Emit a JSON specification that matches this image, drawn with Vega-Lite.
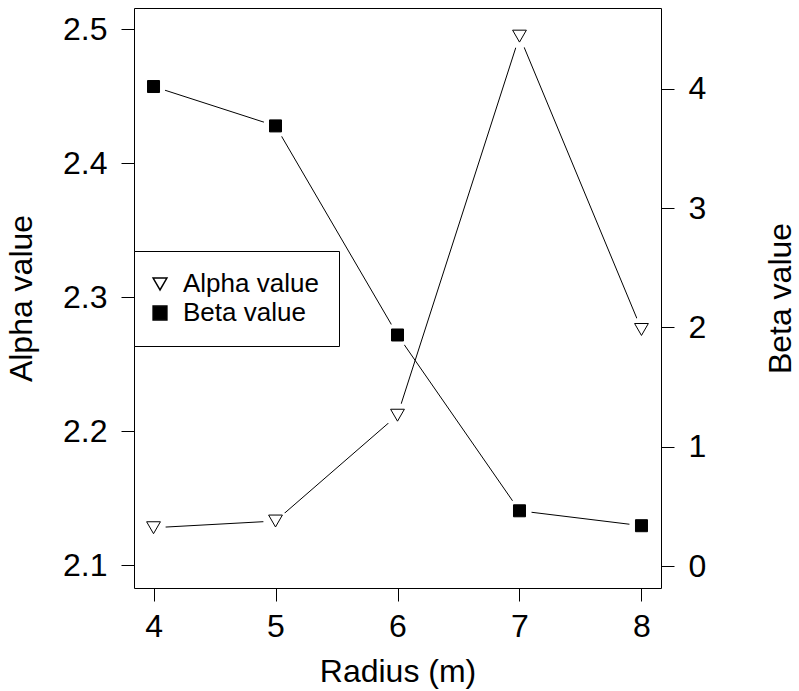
{
  "$schema": "https://vega.github.io/schema/vega-lite/v6.json",
  "autosize": {"type": "none"},
  "width": 527,
  "height": 580,
  "padding": {"left": 134, "top": 8, "right": 138, "bottom": 103},
  "background": "white",
  "config": {
    "view": {"stroke": "black", "strokeWidth": 1},
    "font": "Liberation Sans",
    "axis": {
      "grid": false,
      "domain": false,
      "tickColor": "black",
      "tickSize": 13,
      "tickWidth": 1,
      "labelColor": "black",
      "titleColor": "black",
      "labelFont": "Liberation Sans",
      "titleFont": "Liberation Sans",
      "labelFontSize": 32,
      "titleFontSize": 32,
      "titleFontWeight": "normal",
      "labelFlush": false,
      "labelOverlap": false
    },
    "legend": {
      "labelFont": "Liberation Sans",
      "labelFontSize": 26,
      "labelColor": "black"
    }
  },
  "data": {
    "values": [
      {"radius": 4, "series": "Alpha value", "value": 2.128},
      {"radius": 5, "series": "Alpha value", "value": 2.133},
      {"radius": 6, "series": "Alpha value", "value": 2.212},
      {"radius": 7, "series": "Alpha value", "value": 2.495},
      {"radius": 8, "series": "Alpha value", "value": 2.276},
      {"radius": 4, "series": "Beta value", "value": 4.018},
      {"radius": 5, "series": "Beta value", "value": 3.688},
      {"radius": 6, "series": "Beta value", "value": 1.936},
      {"radius": 7, "series": "Beta value", "value": 0.463},
      {"radius": 8, "series": "Beta value", "value": 0.338}
    ]
  },
  "encoding": {
    "x": {
      "field": "radius",
      "type": "quantitative",
      "scale": {"domain": [3.84, 8.16], "nice": false, "zero": false},
      "axis": {"values": [4, 5, 6, 7, 8], "title": "Radius (m)", "labelPadding": 10, "titlePadding": 14}
    }
  },
  "layer": [
    {
      "transform": [{"filter": "datum.series === 'Alpha value'"}],
      "encoding": {
        "y": {
          "field": "value",
          "type": "quantitative",
          "scale": {"domain": [2.083, 2.516], "nice": false, "zero": false},
          "axis": {"orient": "left", "values": [2.1, 2.2, 2.3, 2.4, 2.5], "format": ".1f", "title": "Alpha value", "labelPadding": 14, "titlePadding": 24}
        }
      },
      "layer": [
        {"mark": {"type": "line", "color": "black", "strokeWidth": 1}},
        {"mark": {"type": "point", "shape": "circle", "filled": true, "fill": "white", "stroke": "white", "size": 500, "opacity": 1}},
        {
          "mark": {"type": "point", "filled": true, "stroke": "black", "strokeWidth": 1, "opacity": 1, "size": 190},
          "encoding": {
            "shape": {"field": "series", "type": "nominal", "scale": {"domain": ["Alpha value", "Beta value"], "range": ["triangle-down", "square"]},
              "legend": {"title": null, "orient": "none", "legendX": 0, "legendY": 243, "padding": 20, "rowPadding": 3, "labelOffset": 10, "symbolOffset": -7, "strokeColor": "black", "fillColor": "white", "symbolSize": 190, "cornerRadius": 0,
                "encode": {"symbols": {"update": {"stroke": {"value": "black"}, "strokeWidth": {"value": 1}, "opacity": {"value": 1}}}}}},
            "fill": {"field": "series", "type": "nominal", "scale": {"domain": ["Alpha value", "Beta value"], "range": ["white", "black"]},
              "legend": {"title": null, "orient": "none", "legendX": 0, "legendY": 243, "padding": 20, "rowPadding": 3, "labelOffset": 10, "symbolOffset": -7, "strokeColor": "black", "fillColor": "white", "symbolSize": 190, "cornerRadius": 0,
                "encode": {"symbols": {"update": {"stroke": {"value": "black"}, "strokeWidth": {"value": 1}, "opacity": {"value": 1}}}}}}
          }
        }
      ]
    },
    {
      "transform": [{"filter": "datum.series === 'Beta value'"}],
      "encoding": {
        "y": {
          "field": "value",
          "type": "quantitative",
          "scale": {"domain": [-0.184, 4.676], "nice": false, "zero": false},
          "axis": {"orient": "right", "values": [0, 1, 2, 3, 4], "format": "d", "title": "Beta value", "titleAngle": 270, "labelPadding": 14, "titlePadding": 92}
        }
      },
      "layer": [
        {"mark": {"type": "line", "color": "black", "strokeWidth": 1}},
        {"mark": {"type": "point", "shape": "circle", "filled": true, "fill": "white", "stroke": "white", "size": 500, "opacity": 1}},
        {
          "mark": {"type": "point", "filled": true, "stroke": "black", "strokeWidth": 1, "opacity": 1, "size": 144},
          "encoding": {
            "shape": {"field": "series", "type": "nominal", "scale": {"domain": ["Alpha value", "Beta value"], "range": ["triangle-down", "square"]},
              "legend": {"title": null, "orient": "none", "legendX": 0, "legendY": 243, "padding": 20, "rowPadding": 3, "labelOffset": 10, "symbolOffset": -7, "strokeColor": "black", "fillColor": "white", "symbolSize": 190, "cornerRadius": 0,
                "encode": {"symbols": {"update": {"stroke": {"value": "black"}, "strokeWidth": {"value": 1}, "opacity": {"value": 1}}}}}},
            "fill": {"field": "series", "type": "nominal", "scale": {"domain": ["Alpha value", "Beta value"], "range": ["white", "black"]},
              "legend": {"title": null, "orient": "none", "legendX": 0, "legendY": 243, "padding": 20, "rowPadding": 3, "labelOffset": 10, "symbolOffset": -7, "strokeColor": "black", "fillColor": "white", "symbolSize": 190, "cornerRadius": 0,
                "encode": {"symbols": {"update": {"stroke": {"value": "black"}, "strokeWidth": {"value": 1}, "opacity": {"value": 1}}}}}}
          }
        }
      ]
    }
  ],
  "resolve": {"scale": {"y": "independent"}}
}
